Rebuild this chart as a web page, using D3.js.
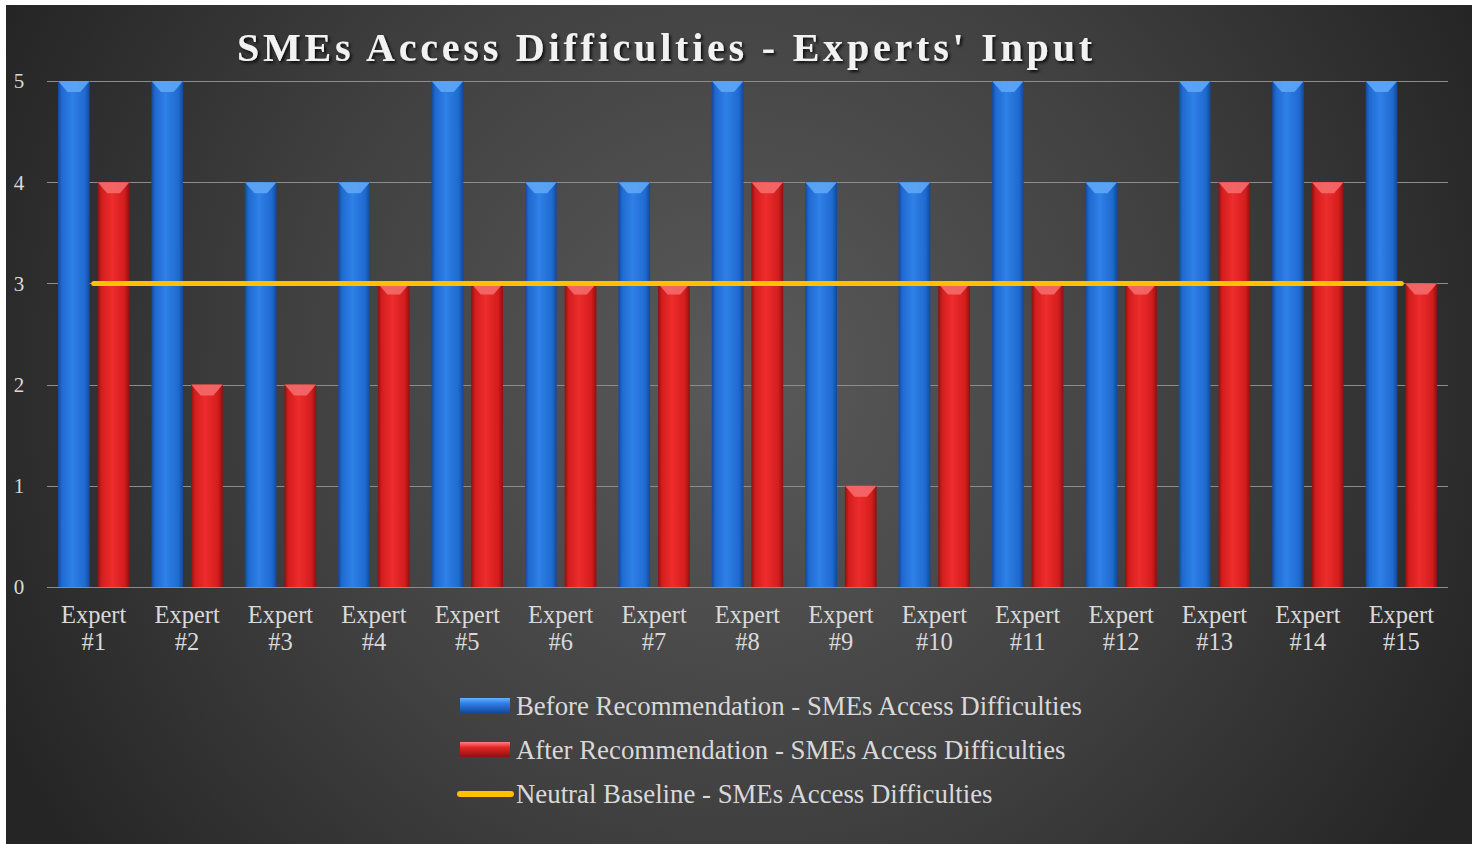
<!DOCTYPE html>
<html>
<head>
<meta charset="utf-8">
<script src="https://cdn.jsdelivr.net/npm/d3@7"></script>
<style>
  html, body { margin: 0; padding: 0; background: #ffffff; }
  svg { display: block; }
  text { font-family: "Liberation Serif", "Times New Roman", serif; }
</style>
</head>
<body>
<svg id="chart" width="1480" height="844"></svg>
<script>
// ---- data ----
const categories = ["Expert #1","Expert #2","Expert #3","Expert #4","Expert #5","Expert #6","Expert #7","Expert #8","Expert #9","Expert #10","Expert #11","Expert #12","Expert #13","Expert #14","Expert #15"];
const beforeValues = [5,5,4,4,5,4,4,5,4,4,5,4,5,5,5];
const afterValues  = [4,2,2,3,3,3,3,4,1,3,3,3,4,4,3];
const baselineValues = [3,3,3,3,3,3,3,3,3,3,3,3,3,3,3];
const seriesNames = ["Before Recommendation - SMEs Access Difficulties","After Recommendation - SMEs Access Difficulties","Neutral Baseline - SMEs Access Difficulties"];
const yTicks = [0,1,2,3,4,5];
const titleText = "SMEs Access Difficulties - Experts' Input";

const svg = d3.select("#chart");
const defs = svg.append("defs");

// background gradient
const bg = defs.append("radialGradient").attr("id","bgGrad")
  .attr("gradientUnits","userSpaceOnUse").attr("cx",740).attr("cy",380).attr("r",820);
bg.append("stop").attr("offset","0").attr("stop-color","#5a5a5a");
bg.append("stop").attr("offset","0.55").attr("stop-color","#404040");
bg.append("stop").attr("offset","1").attr("stop-color","#252525");

function barGrad(id, dark, mid, light) {
  const g = defs.append("linearGradient").attr("id", id).attr("x1","0").attr("x2","1").attr("y1","0").attr("y2","0");
  g.append("stop").attr("offset","0").attr("stop-color",dark);
  g.append("stop").attr("offset","0.12").attr("stop-color",mid);
  g.append("stop").attr("offset","0.45").attr("stop-color",light);
  g.append("stop").attr("offset","0.85").attr("stop-color",mid);
  g.append("stop").attr("offset","1").attr("stop-color",dark);
}
barGrad("blueGrad", "#14479a", "#1f6ad0", "#2f80e8");
barGrad("redGrad", "#8e1010", "#d31d1d", "#ee2c2c");

const tipBlue = "#5fa6f5", tipRed = "#f56a6a";

svg.append("rect").attr("x",6).attr("y",5).attr("width",1466).attr("height",839).attr("fill","url(#bgGrad)");

// scales
const x = d3.scaleBand().domain(categories).range([47,1448]).paddingInner(0).paddingOuter(0);
const inner = d3.scaleBand().domain(["before","after"]).range([11, x.bandwidth()-11]).paddingInner(0.2);
const y = d3.scaleLinear().domain([0,5]).range([587,81]);

// gridlines
svg.append("g").selectAll("line").data(yTicks).join("line")
  .attr("x1",47).attr("x2",1448)
  .attr("y1",d=>Math.round(y(d))+0.5).attr("y2",d=>Math.round(y(d))+0.5)
  .attr("stroke","#8c8c8c").attr("stroke-width",1);

// y labels
svg.append("g").selectAll("text").data(yTicks).join("text")
  .attr("x",19).attr("y",d=>y(d)).attr("dy","0.35em")
  .attr("text-anchor","middle").attr("fill","#d9d9d9").attr("font-size",21)
  .text(d=>d);

// bars
const data = categories.map((c,i)=>({cat:c, before:beforeValues[i], after:afterValues[i]}));
const series = [
  {key:"before", grad:"url(#blueGrad)", tip:tipBlue},
  {key:"after", grad:"url(#redGrad)", tip:tipRed}
];
series.forEach(s=>{
  const g = svg.append("g");
  const items = data.map(d=>({cat:d.cat, v:d[s.key]}));
  g.selectAll("rect").data(items).join("rect")
    .attr("x", d=>x(d.cat)+inner(s.key))
    .attr("y", d=>y(d.v))
    .attr("width", inner.bandwidth())
    .attr("height", d=>y(0)-y(d.v))
    .attr("fill", s.grad);
  // top bevel chevron
  g.selectAll("path").data(items).join("path")
    .attr("d", d=>{
      const x0 = x(d.cat)+inner(s.key), w = inner.bandwidth(), t = y(d.v);
      return `M${x0},${t} L${x0+w},${t} L${x0+w*0.7},${t+11} L${x0+w*0.3},${t+11} Z`;
    })
    .attr("fill", s.tip).attr("opacity",0.9);
});

// baseline line
const line = d3.line().x((d,i)=>x(categories[i])+x.bandwidth()/2).y(d=>y(d));
svg.append("path").datum(baselineValues).attr("d",line)
  .attr("fill","none").attr("stroke","#ffc000").attr("stroke-width",5).attr("stroke-linecap","round");

// x labels
const xl = svg.append("g").selectAll("text").data(categories).join("text")
  .attr("text-anchor","middle").attr("fill","#d9d9d9").attr("font-size",24.5);
xl.each(function(d){
  const parts = d.split(" ");
  const t = d3.select(this);
  const cx = x(d)+x.bandwidth()/2;
  t.append("tspan").attr("x",cx).attr("y",623).text(parts[0]);
  t.append("tspan").attr("x",cx).attr("y",650).text(parts[1]);
});

// title
const shadow = defs.append("filter").attr("id","shadow").attr("x","-5%").attr("y","-20%").attr("width","110%").attr("height","140%");
shadow.append("feDropShadow").attr("dx",2).attr("dy",2).attr("stdDeviation",1.5).attr("flood-color","#000").attr("flood-opacity",0.8);
svg.append("text").attr("x",237).attr("y",61)
  .attr("font-size",40).attr("font-weight","bold").attr("fill","#f2f2f2")
  .attr("textLength",855).attr("lengthAdjust","spacing")
  .attr("filter","url(#shadow)")
  .text(titleText);

// legend
const lg = svg.append("g");
const legRows = [
  {name:seriesNames[0], type:"bar", y:706},
  {name:seriesNames[1], type:"bar", y:750},
  {name:seriesNames[2], type:"line", y:794}
];
const lgV = defs.append("linearGradient").attr("id","legBlue").attr("x1",0).attr("x2",0).attr("y1",0).attr("y2",1);
lgV.append("stop").attr("offset",0).attr("stop-color","#6ab0ff");
lgV.append("stop").attr("offset",0.35).attr("stop-color","#2f80e8");
lgV.append("stop").attr("offset",1).attr("stop-color","#14479a");
const lgR = defs.append("linearGradient").attr("id","legRed").attr("x1",0).attr("x2",0).attr("y1",0).attr("y2",1);
lgR.append("stop").attr("offset",0).attr("stop-color","#ff8080");
lgR.append("stop").attr("offset",0.35).attr("stop-color","#e42626");
lgR.append("stop").attr("offset",1).attr("stop-color","#8e1010");
legRows.forEach((r,i)=>{
  if (r.type==="bar") {
    lg.append("rect").attr("x",460).attr("y",r.y-8).attr("width",50).attr("height",15)
      .attr("fill", i===0 ? "url(#legBlue)" : "url(#legRed)");
  } else {
    lg.append("line").attr("x1",460).attr("x2",511).attr("y1",r.y).attr("y2",r.y)
      .attr("stroke","#ffc000").attr("stroke-width",6).attr("stroke-linecap","round");
  }
  lg.append("text").attr("x",516).attr("y",r.y).attr("dy","0.35em")
    .attr("fill","#d9d9d9").attr("font-size",26.8).text(r.name);
});
</script>
</body>
</html>
